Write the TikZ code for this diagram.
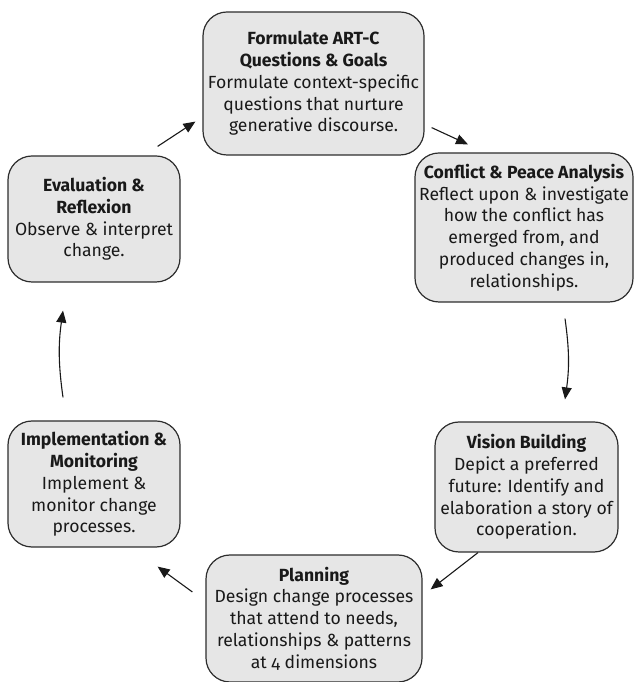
\documentclass[tikz,border=0pt]{standalone}
\usepackage{fontspec}
\setmainfont{Fira Sans}[Numbers=OldStyle]
\usepackage{tikz}
\usetikzlibrary{arrows.meta, positioning, calc}
\definecolor{boxfill}{RGB}{230,230,230}
\definecolor{boxline}{RGB}{45,45,45}

\begin{document}
\begin{tikzpicture}[x=1pt, y=1pt,
    stage/.style={draw=boxline, fill=boxfill, line width=1.2pt, rounded corners=24pt,
      align=center, inner sep=0pt, font=\fontsize{17.6}{21.8}\selectfont, text=black!90},
    flow/.style={-{Triangle[length=12pt, width=10pt]}, line width=1.1pt, black!90}]
  \useasboundingbox (0,0) rectangle (634,682);
  \node[stage, minimum width=221pt, minimum height=143pt] (goals) at (313.5,598.5)
    {\textbf{Formulate ART-C}\\ \textbf{Questions \& Goals}\\ Formulate context-specific\\ questions that nurture\\ generative discourse.};
  \node[stage, minimum width=218pt, minimum height=149pt] (analysis) at (524,454.5)
    {\textbf{Conflict \& Peace Analysis}\\ Reflect upon \& investigate\\ how the conflict has\\ emerged from, and\\ produced changes in,\\ relationships.};
  \node[stage, minimum width=183pt, minimum height=130pt] (vision) at (526.5,195)
    {\textbf{Vision Building}\\ Depict a preferred\\ future: Identify and\\ elaboration a story of\\ cooperation.};
  \node[stage, minimum width=216pt, minimum height=127pt] (planning) at (314,63.5)
    {\textbf{Planning}\\ Design change processes\\ that attend to needs,\\ relationships \& patterns\\ at 4 dimensions};
  \node[stage, minimum width=172pt, minimum height=126pt] (monitor) at (94,198)
    {\textbf{Implementation \&}\\ \textbf{Monitoring}\\ Implement \&\\ monitor change\\ processes.};
  \node[stage, minimum width=172pt, minimum height=126pt] (reflect) at (94,463)
    {\textbf{Evaluation \&}\\ \textbf{Reflexion}\\ Observe \& interpret\\ change.};
  % cycle
  \draw[flow] ([shift={(-23,9)}]reflect.north east) -- ([shift={(-7,34)}]goals.south west);
  \draw[flow] ([shift={(7,28)}]goals.south east) -- ([shift={(-56,8)}]analysis.north);
  \draw[flow] ([shift={(41,-16)}]analysis.south) to[bend left=8] ([shift={(38.5,22)}]vision.north);
  \draw[flow] ([shift={(-48.5,0)}]vision.south) -- ([shift={(8,-35)}]planning.north east);
  \draw[flow] ([shift={(-13,26.5)}]planning.west) -- ([shift={(-23,-19)}]monitor.south east);
  \draw[flow] ([shift={(-31,23)}]monitor.north) to[bend left=8] ([shift={(-31,-28)}]reflect.south);
\end{tikzpicture}
\end{document}
